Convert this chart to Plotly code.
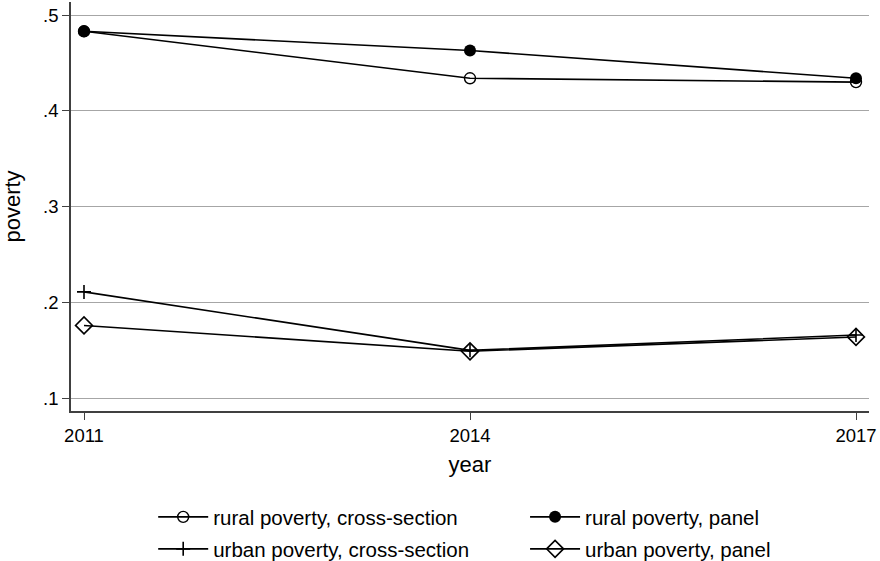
import plotly.graph_objects as go

years = [2011, 2014, 2017]
rural_cross = [0.483, 0.434, 0.430]
rural_panel = [0.483, 0.463, 0.434]
urban_cross = [0.211, 0.150, 0.166]
urban_panel = [0.176, 0.149, 0.164]
y_ticks = [0.1, 0.2, 0.3, 0.4, 0.5]
y_ticklabels = [".1", ".2", ".3", ".4", ".5"]

FONT = "Liberation Sans, Arial, Helvetica, sans-serif"
BLACK = "#000000"

fig = go.Figure()
fig.add_trace(go.Scatter(x=years, y=rural_cross, mode="lines+markers",
                         name="rural poverty, cross-section", legend="legend",
                         line=dict(color=BLACK, width=1.6),
                         marker=dict(symbol="circle-open", size=11, color=BLACK, line=dict(width=1.4))))
fig.add_trace(go.Scatter(x=years, y=rural_panel, mode="lines+markers",
                         name="rural poverty, panel", legend="legend2",
                         line=dict(color=BLACK, width=1.6),
                         marker=dict(symbol="circle", size=12, color=BLACK)))
fig.add_trace(go.Scatter(x=years, y=urban_cross, mode="lines+markers",
                         name="urban poverty, cross-section", legend="legend3",
                         line=dict(color=BLACK, width=1.6),
                         marker=dict(symbol="cross-thin-open", size=10, color=BLACK, line=dict(width=1.6, color=BLACK))))
fig.add_trace(go.Scatter(x=years, y=urban_panel, mode="lines+markers",
                         name="urban poverty, panel", legend="legend4",
                         line=dict(color=BLACK, width=1.6),
                         marker=dict(symbol="diamond-open", size=13, color=BLACK, line=dict(width=1.6))))

legend_common = dict(orientation="h", xref="paper", yref="container",
                     xanchor="left", yanchor="middle", itemwidth=50,
                     font=dict(family=FONT, size=20.5, color=BLACK),
                     bgcolor="rgba(0,0,0,0)")

col1_x, col2_x = 0.103, 0.569
row1_y, row2_y = 1 - 517 / 561, 1 - 549 / 561

fig.update_layout(
    width=880, height=561,
    margin=dict(l=71, r=11, t=2, b=150),
    paper_bgcolor="white", plot_bgcolor="white",
    font=dict(family=FONT, size=17, color=BLACK),
    showlegend=True,
    legend=dict(x=col1_x, y=row1_y, **legend_common),
    legend2=dict(x=col2_x, y=row1_y, **legend_common),
    legend3=dict(x=col1_x, y=row2_y, **legend_common),
    legend4=dict(x=col2_x, y=row2_y, **legend_common),
)
fig.update_xaxes(range=[2010.899, 2017.101], tickmode="array", tickvals=years,
                 ticktext=[str(y) for y in years],
                 showgrid=False, zeroline=False, showline=True, linecolor="#404040", linewidth=1.5,
                 ticks="outside", ticklen=7, tickcolor="#404040", tickwidth=1.2,
                 tickfont=dict(size=18.5), title=dict(text="year", font=dict(size=22), standoff=12))
fig.update_yaxes(range=[0.0867, 0.5136], tickmode="array", tickvals=y_ticks, ticktext=y_ticklabels,
                 showgrid=True, gridcolor="#a6a6a6", gridwidth=1.3, zeroline=False,
                 showline=True, linecolor="#404040", linewidth=1.5,
                 ticks="outside", ticklen=7, tickcolor="#404040", tickwidth=1.2,
                 tickfont=dict(size=18.5), title=dict(text="poverty", font=dict(size=22), standoff=19))

fig.write_html("out.html")
